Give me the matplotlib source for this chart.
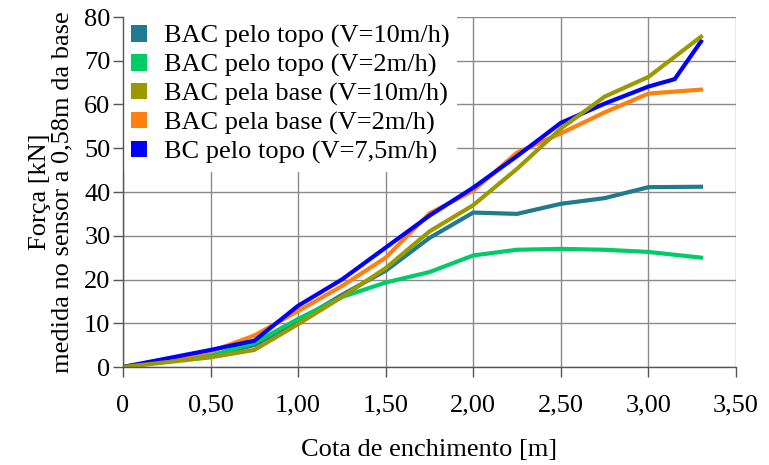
import matplotlib
matplotlib.use("Agg")
import matplotlib.pyplot as plt
import matplotlib.patches as mpatches

plt.rcParams['font.family'] = ['Liberation Serif', 'DejaVu Serif']

x = [0, 0.5, 0.75, 1.0, 1.25, 1.5, 1.75, 2.0, 2.25, 2.5, 2.75, 3.0, 3.3]
x_bc = [0, 0.5, 0.75, 1.0, 1.25, 1.5, 1.75, 2.0, 2.25, 2.5, 2.75, 3.0, 3.15, 3.3]

bac_topo_10 = [0, 2.6, 5.0, 10.5, 16.5, 22.0, 29.5, 35.3, 35.0, 37.3, 38.6, 41.1, 41.2]
bac_topo_2 = [0, 2.6, 5.5, 11.0, 16.0, 19.3, 21.7, 25.5, 26.8, 27.0, 26.8, 26.3, 25.0]
bac_base_10 = [0, 2.2, 3.9, 9.8, 16.0, 22.6, 31.0, 37.0, 45.3, 54.5, 61.8, 66.3, 75.5]
bac_base_2 = [0, 3.5, 7.2, 12.8, 18.5, 25.0, 35.1, 40.3, 49.0, 53.4, 58.2, 62.5, 63.4]
bc_topo_75 = [0, 3.9, 6.0, 14.0, 20.0, 27.3, 34.6, 41.0, 48.2, 55.8, 60.2, 64.1, 65.8, 74.4]

labels = ["BAC pelo topo (V=10m/h)", "BAC pelo topo (V=2m/h)",
          "BAC pela base (V=10m/h)", "BAC pela base (V=2m/h)",
          "BC pelo topo (V=7,5m/h)"]
colors = ["#217a8e", "#00cc66", "#999900", "#ff7f0f", "#0000ff"]

xticks = [0, 0.5, 1.0, 1.5, 2.0, 2.5, 3.0, 3.5]
xticklabels = ["0", "0,50", "1,00", "1,50", "2,00", "2,50", "3,00", "3,50"]
yticks = [0, 10, 20, 30, 40, 50, 60, 70, 80]

FS = 19

fig = plt.figure(figsize=(7.69, 4.65), dpi=100)
ax = fig.add_axes([123/769, 1-367/465, (736-123)/769, (367-17)/465])

series = [(x, bac_topo_10), (x, bac_topo_2), (x, bac_base_2), (x_bc, bc_topo_75), (x, bac_base_10)]
order = [0, 1, 3, 4, 2]
for (xs, ys), idx in zip(series, order):
    ax.plot(xs, ys, color=colors[idx], lw=3.0, solid_joinstyle='miter', zorder=3)

ax.set_xlim(0, 3.5)
ax.set_ylim(0, 80)
ax.set_xticks(xticks)
ax.set_xticklabels(xticklabels)
ax.set_yticks(yticks)
ax.grid(True, color="#8a8a8a", lw=1.0)
ax.set_axisbelow(True)
for s in ['top', 'right']:
    ax.spines[s].set_visible(False)
for s in ['left', 'bottom']:
    ax.spines[s].set_color('#555555')
    ax.spines[s].set_linewidth(1.0)
    ax.spines[s].set_zorder(6)
ax.tick_params(axis='both', direction='out', length=7.5, width=1.0, color='#555555',
               labelsize=FS)
ax.tick_params(axis='y', pad=1.5)
ax.tick_params(axis='x', pad=12.5)

ax.set_xlabel("Cota de enchimento [m]", fontsize=FS, labelpad=16)
ax.set_ylabel("Força [kN]\nmedida no sensor a 0,58m da base", fontsize=FS,
              labelpad=8, linespacing=0.98)

handles = [mpatches.Patch(facecolor=c, edgecolor='none') for c in colors]
leg = ax.legend(handles, labels, loc='upper left', bbox_to_anchor=(0.0, 1.0),
                fontsize=FS, frameon=True, fancybox=False, edgecolor='none',
                facecolor='white', framealpha=1.0,
                handlelength=0.6, handleheight=0.6, handletextpad=0.65,
                labelspacing=0.22, borderaxespad=0.0, borderpad=0.3)
leg.set_zorder(5)

fig.savefig("out.png", dpi=100)
